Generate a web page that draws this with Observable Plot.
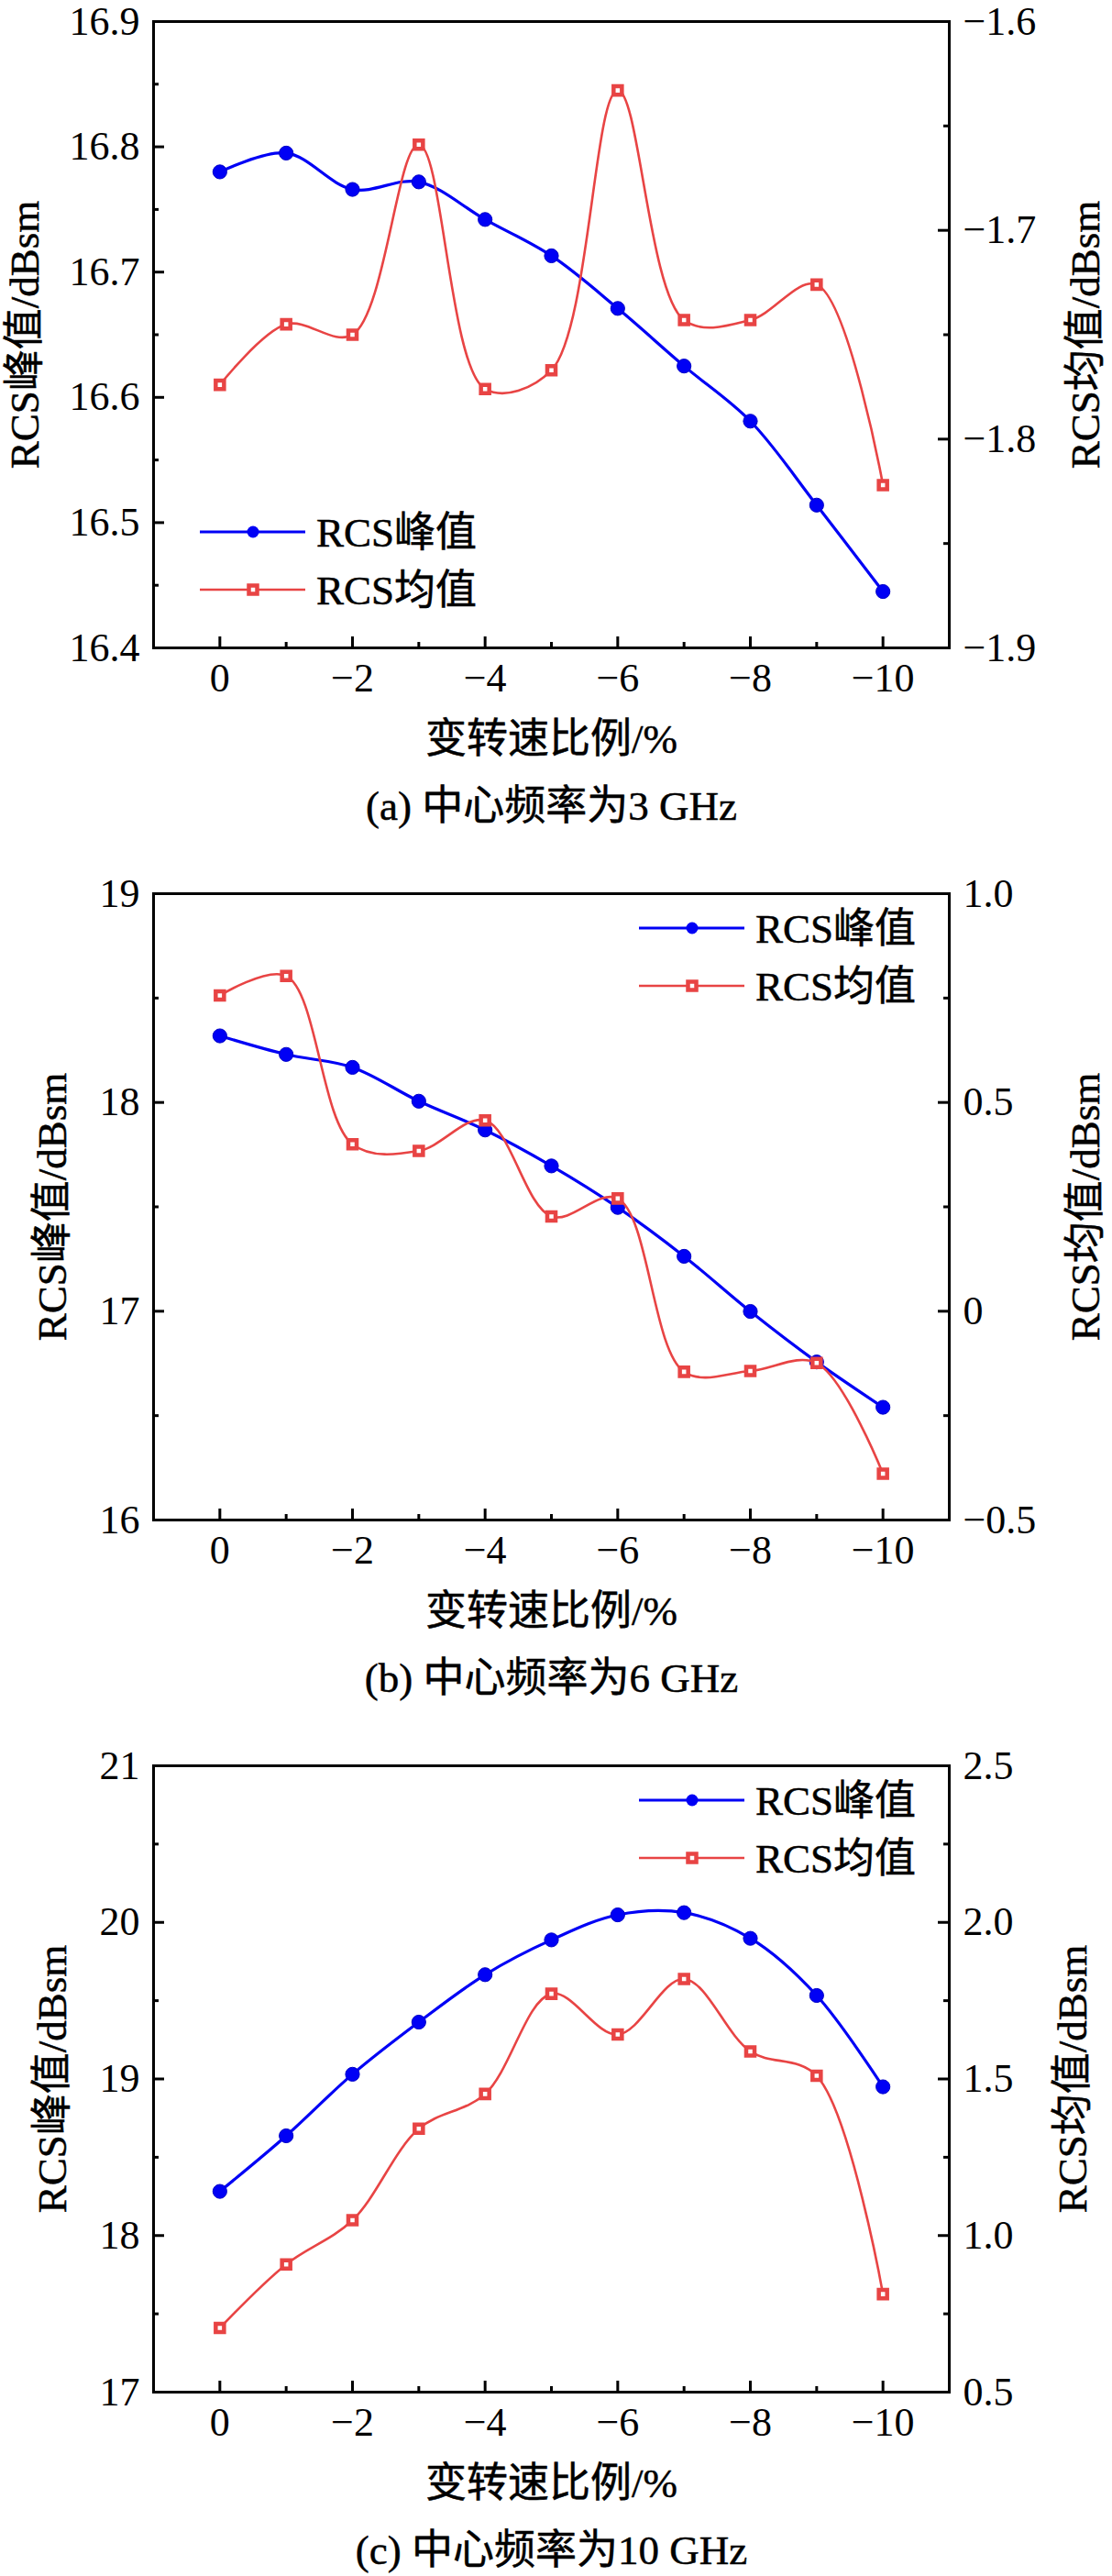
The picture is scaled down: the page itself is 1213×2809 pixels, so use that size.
<!DOCTYPE html>
<html>
<head>
<meta charset="utf-8">
<script src="https://cdn.jsdelivr.net/npm/d3@7"></script>
<script src="https://cdn.jsdelivr.net/npm/@observablehq/plot@0.6"></script>
<style>
html, body { margin: 0; padding: 0; background: #fff; }
#root { width: 1213px; }
#root svg { display: block; overflow: visible; }
#root svg text { font-family: 'Liberation Serif','Times New Roman','Noto Sans CJK SC',serif; }
</style>
</head>
<body>
<div id="root"></div>
<script>
// ---------- data ----------
const xValues = [0, -1, -2, -3, -4, -5, -6, -7, -8, -9, -10];
const xMajor = [0, -2, -4, -6, -8, -10];
const xMinor = [-1, -3, -5, -7, -9];
const xLabels = ["0", "−2", "−4", "−6", "−8", "−10"];

const seriesNames = ["RCS峰值", "RCS均值"];
const xTitle = "变转速比例/%";
const leftTitle = "RCS峰值/dBsm";
const rightTitle = "RCS均值/dBsm";

// (a) 3 GHz
const captionA = "(a) 中心频率为3 GHz";
const peakA = [16.780, 16.795, 16.766, 16.772, 16.742, 16.713, 16.671, 16.625, 16.581, 16.514, 16.445];
const meanA = [-1.774, -1.745, -1.750, -1.659, -1.776, -1.767, -1.633, -1.743, -1.743, -1.726, -1.822];
const leftDomainA = [16.4, 16.9];
const rightDomainA = [-1.9, -1.6];
const leftMajorA = [16.4, 16.5, 16.6, 16.7, 16.8, 16.9];
const leftMinorA = [16.45, 16.55, 16.65, 16.75, 16.85];
const leftLabelsA = ["16.4", "16.5", "16.6", "16.7", "16.8", "16.9"];
const rightMajorA = [-1.9, -1.8, -1.7, -1.6];
const rightMinorA = [-1.85, -1.75, -1.65];
const rightLabelsA = ["−1.9", "−1.8", "−1.7", "−1.6"];

// (b) 6 GHz
const captionB = "(b) 中心频率为6 GHz";
const peakB = [18.319, 18.230, 18.168, 18.006, 17.868, 17.696, 17.497, 17.263, 16.999, 16.757, 16.540];
const meanB = [0.756, 0.803, 0.400, 0.384, 0.457, 0.227, 0.270, -0.145, -0.143, -0.124, -0.389];
const leftDomainB = [16, 19];
const rightDomainB = [-0.5, 1.0];
const leftMajorB = [16, 17, 18, 19];
const leftMinorB = [16.5, 17.5, 18.5];
const leftLabelsB = ["16", "17", "18", "19"];
const rightMajorB = [-0.5, 0, 0.5, 1.0];
const rightMinorB = [-0.25, 0.25, 0.75];
const rightLabelsB = ["−0.5", "0", "0.5", "1.0"];

// (c) 10 GHz
const captionC = "(c) 中心频率为10 GHz";
const peakC = [18.282, 18.637, 19.030, 19.363, 19.666, 19.888, 20.048, 20.062, 19.898, 19.533, 18.950];
const meanC = [0.705, 0.908, 1.049, 1.341, 1.452, 1.772, 1.642, 1.819, 1.588, 1.510, 0.813];
const leftDomainC = [17, 21];
const rightDomainC = [0.5, 2.5];
const leftMajorC = [17, 18, 19, 20, 21];
const leftMinorC = [17.5, 18.5, 19.5, 20.5];
const leftLabelsC = ["17", "18", "19", "20", "21"];
const rightMajorC = [0.5, 1.0, 1.5, 2.0, 2.5];
const rightMinorC = [0.75, 1.25, 1.75, 2.25];
const rightLabelsC = ["0.5", "1.0", "1.5", "2.0", "2.5"];

// ---------- style ----------
const BLUE = "#0000f5";
const RED = "#e84444";
const FONT = "'Liberation Serif','Times New Roman','Noto Sans CJK SC',serif";
const W = 1213;
const ML = 167, MR = 178, MT = 23;
const PH = 683;             // frame height
const PW = W - ML - MR;     // frame width
const TICKFS = 44;
const TITLEFS = 45;
const TXT = {fontFamily: FONT, textAnchor: "middle", lineAnchor: "middle", fill: "#000",
             stroke: "#000", strokeWidth: 0.5};
const AX = {tickSize: 0, label: null, fontSize: TICKFS, fontFamily: FONT, fill: "#000",
            stroke: "#000", strokeWidth: 0.45};

function panel(cfg) {
  const [L0, L1] = cfg.leftDomain;
  const [R0, R1] = cfg.rightDomain;
  const toLeft = v => L0 + (v - R0) * (L1 - L0) / (R1 - R0);
  const peak = xValues.map((x, i) => ({x, v: cfg.peak[i]}));
  const mean = xValues.map((x, i) => ({x, v: toLeft(cfg.mean[i])}));
  const rightMajorPos = cfg.rightMajor.map(toLeft);
  const rightMinorPos = cfg.rightMinor.map(toLeft);

  const svg = Plot.plot({
    width: W,
    height: cfg.height,
    marginLeft: ML,
    marginRight: MR,
    marginTop: MT,
    marginBottom: cfg.height - MT - PH,
    style: `font-family: ${FONT}; font-size: ${TICKFS}px; color: #000; background: #fff;`,
    x: {domain: [1, -11], axis: null},
    y: {domain: cfg.leftDomain, axis: null},
    marks: [
      // inward ticks
      Plot.tickY(cfg.leftMajor, {y: d => d, insetRight: PW - 12, stroke: "#000", strokeWidth: 3}),
      Plot.tickY(cfg.leftMinor, {y: d => d, insetRight: PW - 6, stroke: "#000", strokeWidth: 3}),
      Plot.tickY(rightMajorPos, {y: d => d, insetLeft: PW - 12, stroke: "#000", strokeWidth: 3}),
      Plot.tickY(rightMinorPos, {y: d => d, insetLeft: PW - 6, stroke: "#000", strokeWidth: 3}),
      Plot.tickX(xMajor, {x: d => d, insetTop: PH - 12, stroke: "#000", strokeWidth: 3}),
      Plot.tickX(xMinor, {x: d => d, insetTop: PH - 6, stroke: "#000", strokeWidth: 3}),
      // tick labels
      Plot.axisY(cfg.leftMajor, {...AX, anchor: "left", tickPadding: 15,
        tickFormat: d => cfg.leftLabels[cfg.leftMajor.indexOf(d)]}),
      Plot.axisY(rightMajorPos, {...AX, anchor: "right", tickPadding: 15,
        tickFormat: d => cfg.rightLabels[rightMajorPos.indexOf(d)]}),
      Plot.axisX(xMajor, {...AX, anchor: "bottom", tickPadding: 16,
        tickFormat: d => xLabels[xMajor.indexOf(d)]}),
      // data: series 1 then series 2 (Origin drawing order)
      Plot.line(peak, {x: "x", y: "v", stroke: BLUE, strokeWidth: 3.2, curve: "catmull-rom"}),
      Plot.dot(peak, {x: "x", y: "v", r: 7.6, fill: BLUE, stroke: "#0000c8", strokeWidth: 1}),
      Plot.line(mean, {x: "x", y: "v", stroke: RED, strokeWidth: 2.6, curve: "catmull-rom"}),
      Plot.dot(mean, {x: "x", y: "v", symbol: "square", r: 5.1, fill: "#fff", stroke: RED, strokeWidth: 4.5}),
      Plot.frame({stroke: "#000", strokeWidth: 3}),
      // titles
      Plot.text([leftTitle], {...TXT, text: d => d, frameAnchor: "left", dx: cfg.leftTitleDx, rotate: -90, fontSize: TITLEFS}),
      Plot.text([rightTitle], {...TXT, text: d => d, frameAnchor: "right", dx: cfg.rightTitleDx, rotate: -90, fontSize: TITLEFS}),
      Plot.text([xTitle], {...TXT, text: d => d, frameAnchor: "bottom", dy: 100, fontSize: TITLEFS}),
      Plot.text([cfg.caption], {...TXT, text: d => d, frameAnchor: "bottom", dy: 173, fontSize: TITLEFS})
    ]
  });

  // legend (inside frame)
  const g = d3.select(svg).append("g")
    .attr("transform", `translate(${ML + cfg.legend[0]},${MT + cfg.legend[1]})`)
    .attr("font-family", FONT).attr("font-size", TITLEFS).attr("text-anchor", "start");
  const rowGap = 63;
  seriesNames.forEach((name, i) => {
    const y = i * rowGap;
    const col = i === 0 ? BLUE : RED;
    g.append("line").attr("x1", 0).attr("x2", 115).attr("y1", y).attr("y2", y)
      .attr("stroke", col).attr("stroke-width", i === 0 ? 3.2 : 2.6);
    if (i === 0) {
      g.append("circle").attr("cx", 58).attr("cy", y).attr("r", 6.5).attr("fill", BLUE);
    } else {
      g.append("rect").attr("x", 53.5).attr("y", y - 4.5).attr("width", 9).attr("height", 9)
        .attr("fill", "#fff").attr("stroke", RED).attr("stroke-width", 4.5);
    }
    g.append("text").attr("x", 127).attr("y", y).attr("dy", "0.36em")
      .attr("text-anchor", "start").attr("fill", "#000")
      .attr("stroke", "#000").attr("stroke-width", 0.5).text(name);
  });
  return svg;
}

const root = document.getElementById("root");
root.appendChild(panel({
  height: 951, caption: captionA, peak: peakA, mean: meanA,
  leftDomain: leftDomainA, rightDomain: rightDomainA,
  leftMajor: leftMajorA, leftMinor: leftMinorA, leftLabels: leftLabelsA,
  rightMajor: rightMajorA, rightMinor: rightMinorA, rightLabels: rightLabelsA,
  leftTitleDx: -140, rightTitleDx: 149, legend: [51, 557]
}));
root.appendChild(panel({
  height: 951, caption: captionB, peak: peakB, mean: meanB,
  leftDomain: leftDomainB, rightDomain: rightDomainB,
  leftMajor: leftMajorB, leftMinor: leftMinorB, leftLabels: leftLabelsB,
  rightMajor: rightMajorB, rightMinor: rightMinorB, rightLabels: rightLabelsB,
  leftTitleDx: -110, rightTitleDx: 149, legend: [530, 38]
}));
root.appendChild(panel({
  height: 907, caption: captionC, peak: peakC, mean: meanC,
  leftDomain: leftDomainC, rightDomain: rightDomainC,
  leftMajor: leftMajorC, leftMinor: leftMinorC, leftLabels: leftLabelsC,
  rightMajor: rightMajorC, rightMinor: rightMinorC, rightLabels: rightLabelsC,
  leftTitleDx: -110, rightTitleDx: 135, legend: [530, 38]
}));
</script>
</body>
</html>
